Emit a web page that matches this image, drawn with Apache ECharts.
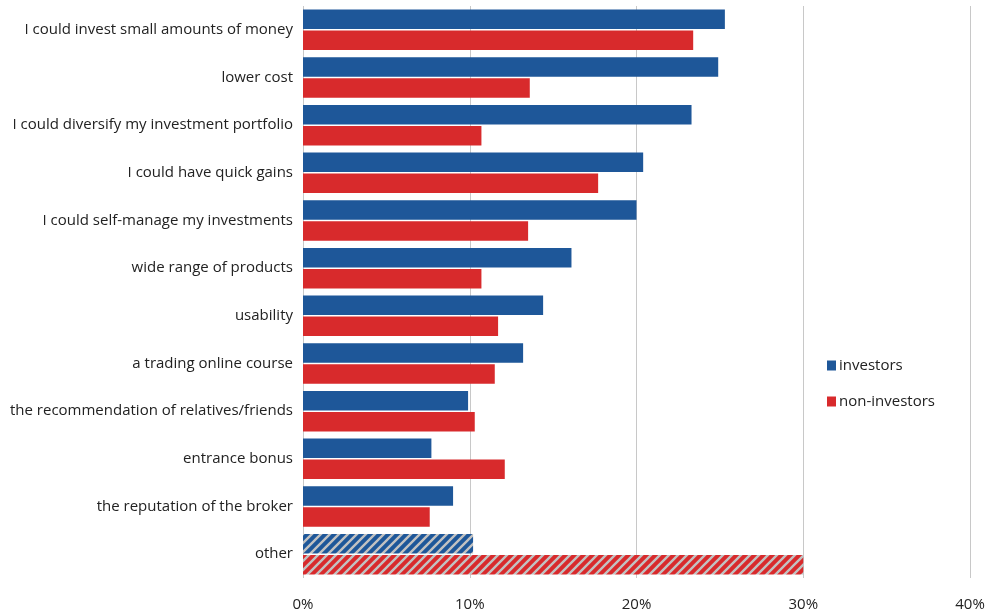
<!DOCTYPE html>
<html>
<head>
<meta charset="utf-8">
<script src="https://cdn.jsdelivr.net/npm/echarts@6/dist/echarts.min.js"></script>
<style>
html,body{margin:0;padding:0;background:#fff;}
#chart{width:989px;height:616px;}
</style>
</head>
<body>
<div id="chart"></div>
<script>
const categories = [
  "I could invest small amounts of money",
  "lower cost",
  "I could diversify my investment portfolio",
  "I could have quick gains",
  "I could self-manage my investments",
  "wide range of products",
  "usability",
  "a trading online course",
  "the recommendation of relatives/friends",
  "entrance bonus",
  "the reputation of the broker",
  "other"
];
const investors = [25.3, 24.9, 23.3, 20.4, 20.0, 16.1, 14.4, 13.2, 9.9, 7.7, 9.0, 10.2];
const nonInvestors = [23.4, 13.6, 10.7, 17.7, 13.5, 10.7, 11.7, 11.5, 10.3, 12.1, 7.6, 30.0];
const seriesNames = ["investors", "non-investors"];
const xTicks = [0, 10, 20, 30, 40];
const hatchedCategory = "other";

const BLUE = "#1E5799";
const RED = "#D82A2C";

function hatch(color) {
  const c = document.createElement("canvas");
  const s = 9;
  c.width = s; c.height = s;
  const g = c.getContext("2d");
  g.fillStyle = color;
  g.fillRect(0, 0, s, s);
  g.strokeStyle = "#c2c2c2";
  g.lineWidth = 2.4;
  g.beginPath();
  g.moveTo(-2, s + 2); g.lineTo(s + 2, -2);
  g.moveTo(-2, 2); g.lineTo(2, -2);
  g.moveTo(s - 2, s + 2); g.lineTo(s + 2, s - 2);
  g.stroke();
  return { image: c, repeat: "repeat" };
}

function buildData(values, color) {
  return values.map((v, i) => {
    if (categories[i] === hatchedCategory) {
      return { value: v, itemStyle: { color: hatch(color) } };
    }
    return v;
  });
}

const chart = echarts.init(document.getElementById("chart"), null, { renderer: "canvas" });
const font = "'Open Sans', 'Noto Sans', sans-serif";
chart.setOption({
  animation: false,
  backgroundColor: "#ffffff",
  textStyle: { fontFamily: font },
  grid: { left: 303, right: 19, top: 6, bottom: 38, containLabel: false },
  legend: {
    orient: "vertical",
    left: 822,
    top: 353,
    itemWidth: 9,
    itemHeight: 10,
    itemGap: 21,
    icon: "rect",
    data: seriesNames,
    textStyle: { fontSize: 15, color: "#222", fontFamily: font, padding: [0, 0, 0, -2] }
  },
  xAxis: {
    type: "value",
    min: xTicks[0],
    max: xTicks[xTicks.length - 1],
    interval: 10,
    axisLine: { show: false },
    axisTick: { show: false },
    splitLine: { show: true, lineStyle: { color: "#c8c8c8", width: 1 } },
    axisLabel: { formatter: v => v + "%", fontSize: 15, color: "#222", margin: 19, fontFamily: font }
  },
  yAxis: {
    type: "category",
    inverse: true,
    data: categories,
    axisLine: { show: false },
    axisTick: { show: false },
    axisLabel: { fontSize: 15, color: "#222", margin: 10, fontFamily: font, padding: [6, 0, 0, 0] }
  },
  series: [
    {
      name: seriesNames[0],
      type: "bar",
      data: buildData(investors, BLUE),
      itemStyle: { color: BLUE },
      barWidth: 19.5,
      barGap: "8%"
    },
    {
      name: seriesNames[1],
      type: "bar",
      data: buildData(nonInvestors, RED),
      itemStyle: { color: RED },
      barWidth: 19.5,
      barGap: "8%"
    }
  ]
});
</script>
</body>
</html>
